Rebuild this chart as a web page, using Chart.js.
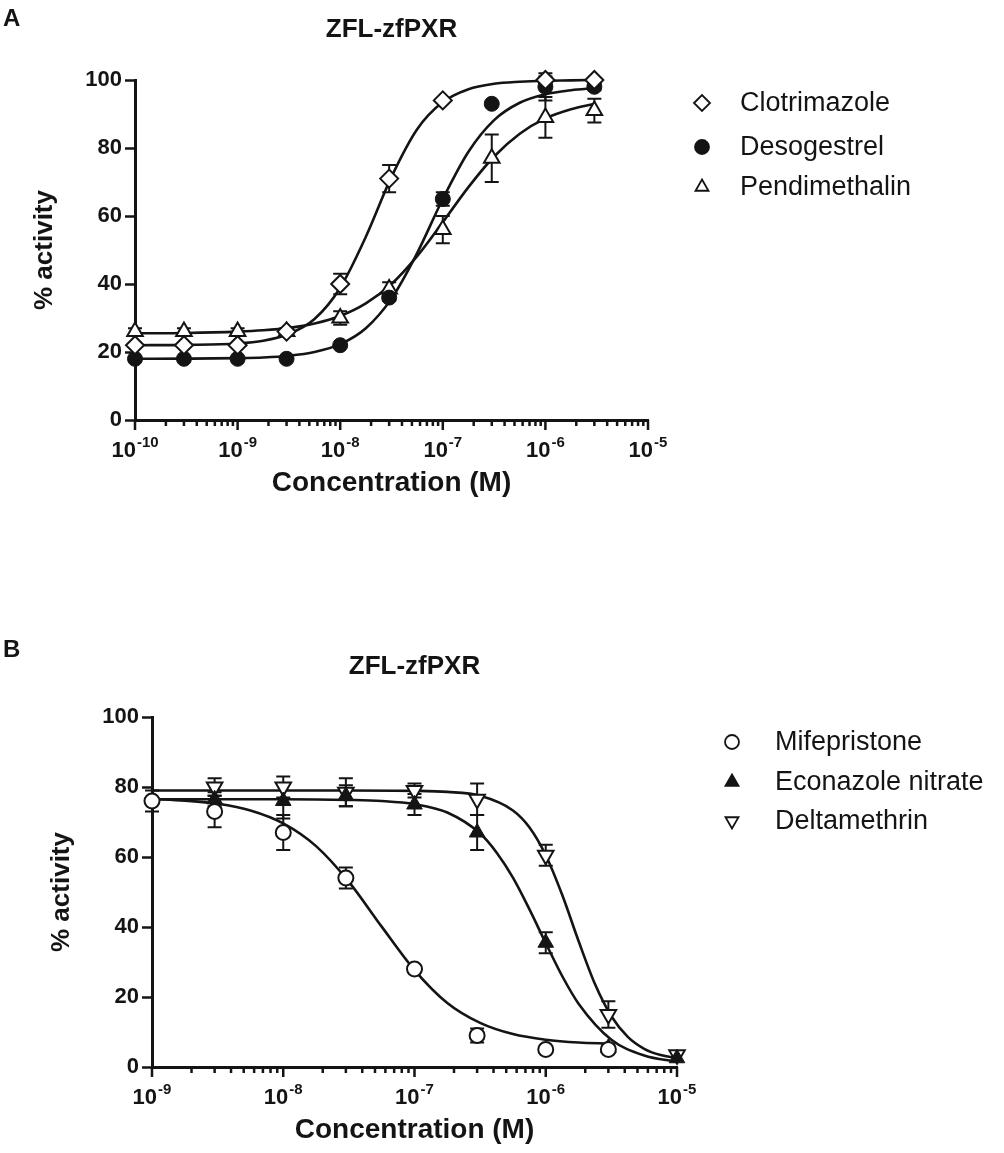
<!DOCTYPE html>
<html>
<head>
<meta charset="utf-8">
<title>ZFL-zfPXR</title>
<script src="https://cdn.jsdelivr.net/npm/chart.js@4.4.1/dist/chart.umd.min.js"></script>
<style>
  html, body { margin: 0; padding: 0; background: #fff; }
  body { position: relative; width: 1004px; height: 1153px; overflow: hidden; }
  canvas { position: absolute; left: 0; }
  #chartA { top: 0; }
  #chartB { top: 560px; }
</style>
</head>
<body>
<canvas id="chartA" width="1004" height="560"></canvas>
<canvas id="chartB" width="1004" height="593"></canvas>
<script>
const FONT = '"Liberation Sans", Arial, Helvetica, sans-serif';
const INK = '#141414';

// ---- panel A : agonists ----
const concA = [1e-10, 3e-10, 1e-9, 3e-9, 1e-8, 3e-8, 1e-7, 3e-7, 1e-6, 3e-6];
const clotrimazole = [22, 22, 22, 26, 40, 71, 94, null, 100, 100];
const clotrimazoleErr = [0, 0, 0, 1, 3, 4, 0, null, 1, 0];
const desogestrel = [18, 18, 18, 18, 22, 36, 65, 93, 98, 98];
const desogestrelErr = [0, 0, 0, 0, 0, 1, 2, 0, 4, 1];
const pendimethalin = [26, 26, 26, 26, 30, 38.5, 56, 77, 89, 91];
const pendimethalinErr = [1, 1, 1, 1, 2, 2, 4, 7, 6, 3.5];

// fitted curves (x = log10 concentration)
const fitLogA = [-10, -9.5, -9, -8.75, -8.5, -8.25, -8, -7.75, -7.5, -7.25, -7, -6.75, -6.5, -6.25, -6, -5.75, -5.52];
const clotrimazoleFit = [22, 22.1, 22.5, 23.3, 25.3, 29.7, 38.9, 53.9, 71.5, 85.5, 93.5, 97.3, 98.9, 99.5, 99.8, 99.9, 100];
const desogestrelFit = [18, 18.05, 18.2, 18.4, 18.9, 20.0, 22.3, 27.0, 35.7, 49.1, 65.0, 78.9, 88.2, 93.3, 95.8, 97.0, 97.6];
const pendimethalinFit = [25.5, 25.6, 26.0, 26.4, 27.1, 28.4, 30.6, 34.3, 40.0, 48.2, 58.2, 68.5, 77.5, 84.2, 88.7, 91.4, 93.0];

const decadesA = [-10, -9, -8, -7, -6, -5];

// ---- panel B : inverse agonists ----
const concB = [1e-9, 3e-9, 1e-8, 3e-8, 1e-7, 3e-7, 1e-6, 3e-6, 1e-5];
const mifepristone = [76, 73, 67, 54, 28, 9, 5, 5, null];
const mifepristoneErr = [3, 4.5, 5, 3, 1, 2, 0, 0, null];
const econazole = [null, 76.5, 76, 77.5, 75, 67, 35.5, 5.5, 2.5];
const econazoleErr = [null, 2, 5, 3, 3, 5, 3, 1, 0];
const deltamethrin = [null, 80, 80, 78.5, 79, 76.5, 60.5, 15, 3.5];
const deltamethrinErr = [null, 2.5, 3, 4, 2, 4.5, 3, 3.8, 0];

const mifepristoneFitLog = [-9, -8.75, -8.5, -8.25, -8, -7.75, -7.5, -7.25, -7, -6.75, -6.5, -6.25, -6, -5.75, -5.52];
const mifepristoneFit = [76.6, 76.1, 75.2, 73.3, 69.6, 63.1, 52.9, 40.1, 27.7, 18.3, 12.6, 9.4, 7.8, 7.0, 6.7];
const econazoleFitLog = [-9, -8, -7.5, -7.25, -7, -6.75, -6.5, -6.375, -6.25, -6.125, -6, -5.875, -5.75, -5.5, -5.25, -5];
const econazoleFit = [76.5, 76.5, 76.3, 76.0, 75.1, 72.7, 66.7, 61.3, 54.1, 45.1, 35.4, 26.0, 18.1, 7.8, 3.3, 1.5];
const deltamethrinFitLog = [-9, -7.5, -7, -6.75, -6.5, -6.25, -6.125, -6, -5.875, -5.75, -5.625, -5.5, -5.375, -5.25, -5.125, -5];
const deltamethrinFit = [79, 79, 78.9, 78.6, 77.5, 73.3, 68.5, 60.5, 49.2, 36.0, 23.7, 14.5, 8.6, 5.2, 3.4, 2.5];

const decadesB = [-9, -8, -7, -6, -5];

const yTicks = [0, 20, 40, 60, 80, 100];

// ---- helpers ----
function points(conc, vals) {
  const out = [];
  vals.forEach((v, i) => { if (v !== null) out.push({ x: conc[i], y: v }); });
  return out;
}

function curve(logs, vals) {
  return logs.map((L, i) => ({ x: Math.pow(10, L), y: vals[i] }));
}

function markerSet(label, data, style) {
  return Object.assign({
    label: label,
    data: data,
    showLine: false,
    clip: false,
    pointBorderColor: INK,
    pointBorderWidth: 2,
    pointBackgroundColor: '#fff',
    pointRotation: 0
  }, style);
}

function curveSet(data) {
  return {
    data: data,
    showLine: true,
    clip: false,
    borderColor: INK,
    borderWidth: 2.6,
    pointRadius: 0,
    cubicInterpolationMode: 'monotone'
  };
}

function drawErrorBars(chart, sets) {
  const { ctx, scales: { x, y } } = chart;
  ctx.save();
  ctx.strokeStyle = INK;
  ctx.lineWidth = 2;
  sets.forEach(s => {
    s.values.forEach((v, i) => {
      const e = s.errors[i];
      if (v === null || !e) return;
      const px = x.getPixelForValue(s.conc[i]);
      const top = y.getPixelForValue(v + e);
      const bot = y.getPixelForValue(v - e);
      ctx.beginPath();
      ctx.moveTo(px, top); ctx.lineTo(px, bot);
      ctx.moveTo(px - 7, top); ctx.lineTo(px + 7, top);
      ctx.moveTo(px - 7, bot); ctx.lineTo(px + 7, bot);
      ctx.stroke();
    });
  });
  ctx.restore();
}

function decorPlugin(cfg) {
  return {
    id: 'decor',
    beforeDatasetsDraw(chart) {
      drawErrorBars(chart, cfg.errorSets);
    },
    afterDraw(chart) {
      const { ctx, chartArea, scales: { x } } = chart;
      ctx.save();
      ctx.fillStyle = INK;
      ctx.strokeStyle = INK;

      // log ticks on the x axis, major + minor
      ctx.lineWidth = 2.5;
      const yAxis = chartArea.bottom;
      const decades = cfg.decades;
      ctx.beginPath();
      decades.forEach((k, di) => {
        const px = x.getPixelForValue(Math.pow(10, k));
        ctx.moveTo(px, yAxis); ctx.lineTo(px, yAxis + 10);
        if (di < decades.length - 1) {
          for (let m = 2; m <= 9; m++) {
            const mx = x.getPixelForValue(m * Math.pow(10, k));
            ctx.moveTo(mx, yAxis); ctx.lineTo(mx, yAxis + 6);
          }
        }
      });
      ctx.stroke();

      // tick labels 10^k
      ctx.textBaseline = 'alphabetic';
      ctx.textAlign = 'left';
      decades.forEach(k => {
        const px = x.getPixelForValue(Math.pow(10, k));
        const exp = '-' + Math.abs(k);
        ctx.font = 'bold 22px ' + FONT;
        const wb = ctx.measureText('10').width;
        ctx.font = 'bold 15px ' + FONT;
        const we = ctx.measureText(exp).width;
        const x0 = px - (wb + we + 1) / 2;
        ctx.font = 'bold 22px ' + FONT;
        ctx.fillText('10', x0, yAxis + 37);
        ctx.font = 'bold 15px ' + FONT;
        ctx.fillText(exp, x0 + wb + 1, yAxis + 27);
      });

      // axis titles
      const cx = (chartArea.left + chartArea.right) / 2;
      const cy = (chartArea.top + chartArea.bottom) / 2;
      ctx.textAlign = 'center';
      ctx.textBaseline = 'middle';
      ctx.font = 'bold 28px ' + FONT;
      ctx.fillText('Concentration (M)', cx, yAxis + 63);
      ctx.save();
      ctx.translate(chartArea.left - 90, cy);
      ctx.rotate(-Math.PI / 2);
      ctx.font = 'bold 26px ' + FONT;
      ctx.fillText('% activity', 0, 0);
      ctx.restore();

      // panel title and letter
      ctx.font = 'bold 26px ' + FONT;
      ctx.fillText('ZFL-zfPXR', cx, chartArea.top - 50);
      ctx.textAlign = 'left';
      ctx.font = 'bold 24px ' + FONT;
      ctx.fillText(cfg.letter, 3, cfg.letterY);

      // legend
      ctx.font = '27px ' + FONT;
      cfg.legend.forEach((item, i) => {
        const ly = cfg.legendRows[i];
        ctx.save();
        ctx.lineWidth = 1.8;
        ctx.strokeStyle = INK;
        ctx.fillStyle = item.fill;
        Chart.helpers.drawPoint(ctx, {
          pointStyle: item.pointStyle,
          radius: item.radius,
          rotation: item.rotation || 0,
          borderWidth: 1.8
        }, cfg.legendX, ly);
        ctx.restore();
        ctx.fillText(item.label, cfg.legendTextX, ly + 1);
      });
      ctx.restore();
    }
  };
}

function makePanel(canvasId, cfg) {
  const canvas = document.getElementById(canvasId);
  return new Chart(canvas, {
    type: 'scatter',
    data: { datasets: cfg.datasets },
    options: {
      responsive: false,
      devicePixelRatio: 1,
      animation: false,
      events: [],
      layout: { padding: cfg.padding },
      plugins: {
        legend: { display: false },
        tooltip: { enabled: false },
        title: { display: false }
      },
      scales: {
        x: {
          type: 'logarithmic',
          min: Math.pow(10, cfg.decades[0]),
          max: Math.pow(10, cfg.decades[cfg.decades.length - 1]),
          ticks: { display: false },
          grid: { display: false },
          border: { display: true, color: INK, width: 3 },
          afterFit(scale) { scale.height = cfg.xHeight; }
        },
        y: {
          min: 0,
          max: 100,
          afterBuildTicks(scale) { scale.ticks = yTicks.map(v => ({ value: v })); },
          ticks: {
            color: INK,
            padding: 3,
            font: { family: FONT, size: 22, weight: 'bold' }
          },
          grid: {
            display: true,
            drawOnChartArea: false,
            drawTicks: true,
            tickLength: 10,
            tickWidth: 2.5,
            tickColor: INK,
            color: INK
          },
          border: { display: true, color: INK, width: 3 },
          afterFit(scale) { scale.width = cfg.yWidth; }
        }
      }
    },
    plugins: [decorPlugin(cfg)]
  });
}

// ---- styles ----
const diamondOpen = { pointStyle: 'rectRot', pointRadius: 9, pointBackgroundColor: '#fff' };
const circleFilled = { pointStyle: 'circle', pointRadius: 7.5, pointBackgroundColor: INK, pointBorderWidth: 1 };
const triangleOpen = { pointStyle: 'triangle', pointRadius: 9, pointBackgroundColor: '#fff' };
const circleOpen = { pointStyle: 'circle', pointRadius: 7.5, pointBackgroundColor: '#fff' };
const triangleFilled = { pointStyle: 'triangle', pointRadius: 9, pointBackgroundColor: INK, pointBorderWidth: 1 };
const triangleDownOpen = { pointStyle: 'triangle', pointRadius: 9, pointBackgroundColor: '#fff', pointRotation: 180 };

makePanel('chartA', {
  letter: 'A',
  letterY: 19,
  decades: decadesA,
  padding: { left: 0, top: 80, right: 1004 - 648, bottom: 0 },
  yWidth: 135,
  xHeight: 560 - 420,
  datasets: [
    markerSet('Clotrimazole', points(concA, clotrimazole), diamondOpen),
    markerSet('Desogestrel', points(concA, desogestrel), circleFilled),
    markerSet('Pendimethalin', points(concA, pendimethalin), triangleOpen),
    curveSet(curve(fitLogA, clotrimazoleFit)),
    curveSet(curve(fitLogA, desogestrelFit)),
    curveSet(curve(fitLogA, pendimethalinFit))
  ],
  errorSets: [
    { conc: concA, values: clotrimazole, errors: clotrimazoleErr },
    { conc: concA, values: desogestrel, errors: desogestrelErr },
    { conc: concA, values: pendimethalin, errors: pendimethalinErr }
  ],
  legendX: 702,
  legendTextX: 740,
  legendRows: [103, 147, 187],
  legend: [
    { label: 'Clotrimazole', pointStyle: 'rectRot', radius: 8, fill: '#fff' },
    { label: 'Desogestrel', pointStyle: 'circle', radius: 7, fill: INK },
    { label: 'Pendimethalin', pointStyle: 'triangle', radius: 7.5, fill: '#fff' }
  ]
});

makePanel('chartB', {
  letter: 'B',
  letterY: 650 - 560,
  decades: decadesB,
  padding: { left: 0, top: 717 - 560, right: 1004 - 677, bottom: 0 },
  yWidth: 152,
  xHeight: 593 - (1067 - 560),
  datasets: [
    markerSet('Mifepristone', points(concB, mifepristone), circleOpen),
    markerSet('Econazole nitrate', points(concB, econazole), triangleFilled),
    markerSet('Deltamethrin', points(concB, deltamethrin), triangleDownOpen),
    curveSet(curve(mifepristoneFitLog, mifepristoneFit)),
    curveSet(curve(econazoleFitLog, econazoleFit)),
    curveSet(curve(deltamethrinFitLog, deltamethrinFit))
  ],
  errorSets: [
    { conc: concB, values: mifepristone, errors: mifepristoneErr },
    { conc: concB, values: econazole, errors: econazoleErr },
    { conc: concB, values: deltamethrin, errors: deltamethrinErr }
  ],
  legendX: 732,
  legendTextX: 775,
  legendRows: [742 - 560, 782 - 560, 821 - 560],
  legend: [
    { label: 'Mifepristone', pointStyle: 'circle', radius: 7, fill: '#fff' },
    { label: 'Econazole nitrate', pointStyle: 'triangle', radius: 7.5, fill: INK },
    { label: 'Deltamethrin', pointStyle: 'triangle', radius: 7.5, fill: '#fff', rotation: 180 }
  ]
});
</script>
</body>
</html>
